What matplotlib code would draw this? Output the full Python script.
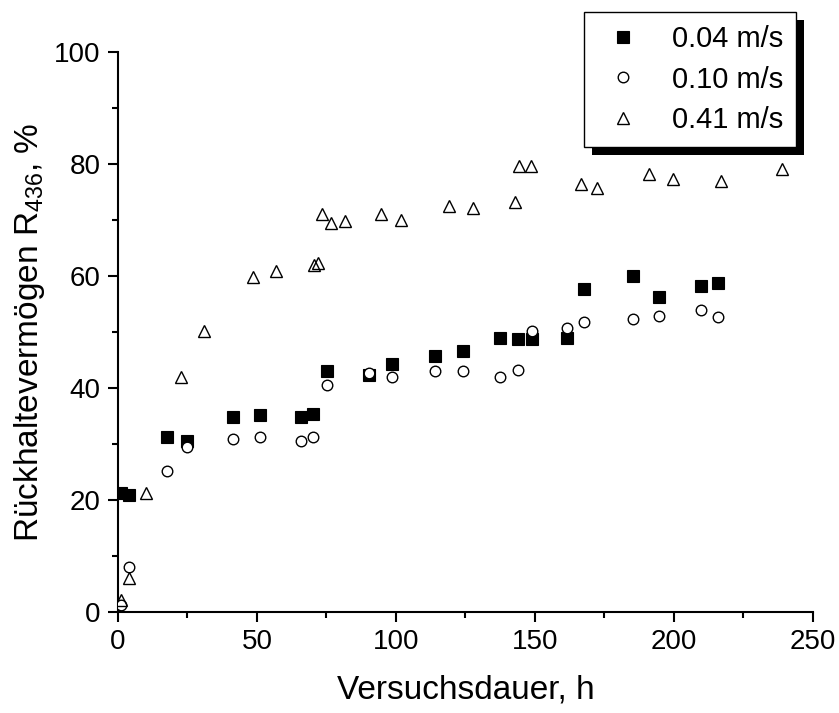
import matplotlib
matplotlib.use("Agg")
import matplotlib.pyplot as plt
from matplotlib.patches import Rectangle
from matplotlib.ticker import MultipleLocator

plt.rcParams['font.family'] = ['Liberation Sans', 'DejaVu Sans']
plt.rcParams['mathtext.default'] = 'regular'

# --- data ---
t_004 = [1.0, 4.1, 17.5, 24.9, 41.5, 51.1, 65.9, 70.0, 75.1, 90.4, 98.4, 114.0,
         124.0, 137.4, 144.0, 148.9, 161.5, 167.8, 185.3, 194.7, 209.8, 215.8]
r_004 = [21.2, 20.9, 31.2, 30.6, 34.9, 35.1, 34.9, 35.3, 43.0, 42.4, 44.2, 45.8,
         46.6, 49.0, 48.8, 48.8, 49.0, 57.6, 60.0, 56.3, 58.2, 58.7]

t_010 = [1.0, 4.1, 17.5, 24.9, 41.5, 51.1, 65.9, 70.0, 75.1, 90.4, 98.4, 114.0,
         124.0, 137.4, 144.0, 148.9, 161.5, 167.8, 185.3, 194.7, 209.8, 215.8]
r_010 = [1.3, 8.0, 25.2, 29.5, 30.9, 31.2, 30.6, 31.3, 40.5, 42.6, 42.0, 43.1,
         43.1, 42.0, 43.3, 50.1, 50.8, 51.8, 52.3, 52.9, 54.0, 52.7]

t_041 = [1.0, 4.1, 10.1, 22.7, 30.9, 48.7, 56.7, 70.5, 72.0, 73.4, 76.5, 81.7,
         94.6, 101.9, 118.9, 127.8, 142.9, 144.3, 148.6, 166.4, 172.4, 190.9,
         199.7, 216.8, 238.7]
r_041 = [2.2, 6.0, 21.2, 42.0, 50.1, 59.8, 60.9, 62.0, 62.4, 71.0, 69.5, 69.8,
         71.0, 70.0, 72.5, 72.1, 73.2, 79.6, 79.6, 76.4, 75.7, 78.2,
         77.3, 77.0, 79.1]

labels = ['0.04 m/s', '0.10 m/s', '0.41 m/s']

fig = plt.figure(figsize=(8.39, 7.13), dpi=100)
ax = fig.add_axes([0.1406, 0.1417, 0.969 - 0.1406, 0.927 - 0.1417])

ax.plot(t_004, r_004, ls='none', marker='s', ms=8.8, mfc='black', mec='black',
        mew=0.8, label=labels[0], zorder=3)
ax.plot(t_010, r_010, ls='none', marker='o', ms=7.6, mfc='white', mec='black',
        mew=1.0, label=labels[1], zorder=3)
ax.plot(t_041, r_041, ls='none', marker='^', ms=8.8, mfc='none', mec='black',
        mew=1.0, label=labels[2], zorder=3)

ax.set_xlim(0, 250)
ax.set_ylim(0, 100)
ax.xaxis.set_major_locator(MultipleLocator(50))
ax.xaxis.set_minor_locator(MultipleLocator(25))
ax.yaxis.set_major_locator(MultipleLocator(20))
ax.yaxis.set_minor_locator(MultipleLocator(10))

for side in ['top', 'right']:
    ax.spines[side].set_visible(False)
for side in ['left', 'bottom']:
    ax.spines[side].set_linewidth(1.5)

ax.tick_params(which='major', direction='out', length=7.5, width=1.5,
               labelsize=20, pad=5)
ax.tick_params(which='minor', direction='out', length=4.5, width=1.5)

ax.set_xlabel('Versuchsdauer, h', fontsize=24, labelpad=14)
ax.set_ylabel('Rückhaltevermögen R$_{436}$, %', fontsize=24, labelpad=5)

leg = ax.legend(loc='upper right', bbox_to_anchor=(0.9755, 1.071),
                borderaxespad=0, fontsize=21, frameon=True, fancybox=False,
                handlelength=1.75, handletextpad=0.8, labelspacing=0.42,
                borderpad=0.45)
leg.get_frame().set_edgecolor('black')
leg.get_frame().set_linewidth(1.0)
leg.get_frame().set_alpha(1)
leg.set_zorder(6)

# black drop shadow behind the legend box (drawn in the axes, below the legend)
fig.canvas.draw()
bb = leg.get_window_extent()
shadow = Rectangle((bb.x0 + 8, bb.y0 - 8), bb.width, bb.height,
                   transform=None, facecolor='black', edgecolor='none',
                   zorder=5, clip_on=False)
ax.add_artist(shadow)

fig.savefig('out.png', dpi=100)
